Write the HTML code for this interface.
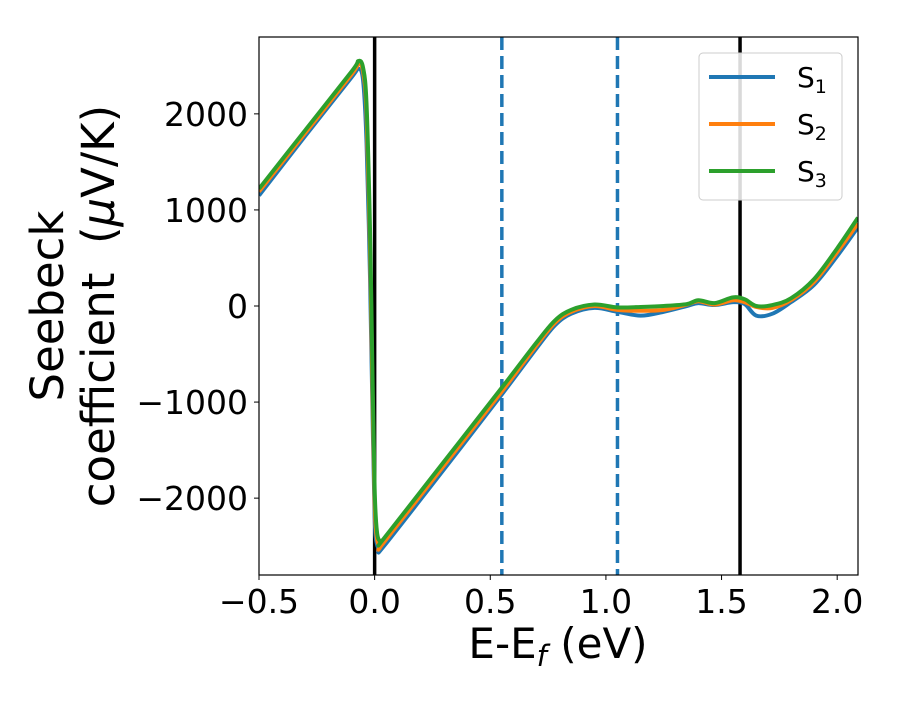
<!DOCTYPE html>
<html><head><meta charset="utf-8"><style>
body{margin:0;background:#fff}
svg{font-family:"DejaVu Sans","Liberation Sans",sans-serif}
</style></head><body>
<svg id="chart" width="900" height="700" viewBox="0 0 900 700">
<rect width="900" height="700" fill="#fff"/>
<defs><clipPath id="clip"><rect x="259" y="37" width="599" height="538"/></clipPath></defs>
<g id="vlines" clip-path="url(#clip)"></g>
<g id="series" clip-path="url(#clip)"></g>
<rect x="259" y="37" width="599" height="538" fill="none" stroke="#000" stroke-width="1.2"/>
<g id="xticks"></g><g id="yticks"></g>
<text x="558" y="658" font-size="42" text-anchor="middle">E-E<tspan font-style="italic" font-size="29" dy="8">f</tspan><tspan dy="-8"> (eV)</tspan></text>
<g transform="translate(0,306) rotate(-90)">
<text x="0" y="63" font-size="45" text-anchor="middle">Seebeck</text>
<text x="0" y="114" font-size="45" text-anchor="middle" xml:space="preserve">coefficient  (<tspan font-style="italic">μ</tspan>V/K)</text>
</g>
<g>
<rect x="699" y="53" width="143" height="147" rx="4" fill="#fff" fill-opacity="0.85" stroke="#ccc"/>
<g id="legend-items"></g>
</g>
</svg>
<script>
const xVals=[-0.5,-0.3,-0.1,-0.07,-0.05,-0.035,-0.02,-0.01,0,0.01,0.025,0.04,0.3,0.55,0.7,0.78,0.85,0.95,1.05,1.15,1.25,1.35,1.4,1.47,1.55,1.6,1.65,1.72,1.8,1.9,2.0,2.09];
const s1=[1150,1770,2380,2470,2350,1700,300,-1000,-2200,-2480,-2520,-2500,-1700,-920,-440,-200,-80,-20,-60,-100,-60,0,30,10,40,20,-100,-80,40,220,520,820];
const s2=[1190,1800,2410,2520,2440,2000,600,-800,-2050,-2420,-2500,-2460,-1660,-890,-410,-175,-60,0,-40,-50,-40,15,50,15,60,40,-10,-20,60,250,560,860];
const s3=[1220,1830,2440,2550,2480,2100,800,-600,-1900,-2350,-2450,-2420,-1620,-850,-380,-150,-40,15,-15,-10,0,20,60,30,90,70,0,10,80,280,600,920];
const seriesNames=["S1","S2","S3"];
const colors=["#1f77b4","#ff7f0e","#2ca02c"];
const xTicks=[-0.5,0.0,0.5,1.0,1.5,2.0];
const xTickLabels=["−0.5","0.0","0.5","1.0","1.5","2.0"];
const yTicks=[-2000,-1000,0,1000,2000];
const yTickLabels=["−2000","−1000","0","1000","2000"];
const solidLines=[0,1.58];
const dashedLines=[0.55,1.05];
const X0=259,X1=858,Y0=37,Y1=575,xmin=-0.5,xmax=2.09,ymin=-2800,ymax=2800;
const sx=v=>X0+(v-xmin)/(xmax-xmin)*(X1-X0);
const sy=v=>Y1-(v-ymin)/(ymax-ymin)*(Y1-Y0);
const NS="http://www.w3.org/2000/svg";
function mk(tag,attrs,parent){const e=document.createElementNS(NS,tag);for(const k in attrs)e.setAttribute(k,attrs[k]);parent.appendChild(e);return e;}
const vl=document.getElementById('vlines');
solidLines.forEach(v=>{const l=mk('line',{x1:sx(v),x2:sx(v),y1:Y0,y2:Y1,stroke:'#000','stroke-width':3.5},vl);

});
dashedLines.forEach(v=>{const l=mk('line',{x1:sx(v),x2:sx(v),y1:Y0,y2:Y1,stroke:'#1f77b4','stroke-width':3.5,'stroke-dasharray':'13,6'},vl);

});
function smoothPath(xs,ys){
 const p=xs.map((x,i)=>[sx(x),sy(ys[i])]);
 let d=`M${p[0][0]},${p[0][1]}`;
 for(let i=0;i<p.length-1;i++){
  const p0=p[i-1]||p[i],p1=p[i],p2=p[i+1],p3=p[i+2]||p2;
  const c1=[p1[0]+(p2[0]-p0[0])/6,p1[1]+(p2[1]-p0[1])/6];
  const c2=[p2[0]-(p3[0]-p1[0])/6,p2[1]-(p3[1]-p1[1])/6];
  d+=` C${c1[0]},${c1[1]} ${c2[0]},${c2[1]} ${p2[0]},${p2[1]}`;
 }
 return d;
}
const sg=document.getElementById('series');
[s1,s2,s3].forEach((s,i)=>{const p=mk('path',{d:smoothPath(xVals,s),fill:'none',stroke:colors[i],'stroke-width':4,'stroke-linejoin':'round'},sg);

});
const xt=document.getElementById('xticks');
xTicks.forEach((v,i)=>{mk('line',{x1:sx(v),x2:sx(v),y1:Y1,y2:Y1+5,stroke:'#000'},xt);
const t=mk('text',{x:sx(v),y:Y1+38,'font-size':33,'text-anchor':'middle'},xt);t.textContent=xTickLabels[i];

});
const yt=document.getElementById('yticks');
yTicks.forEach((v,i)=>{mk('line',{x1:X0-5,x2:X0,y1:sy(v),y2:sy(v),stroke:'#000'},yt);
const t=mk('text',{x:X0-11,y:sy(v)+12,'font-size':33,'text-anchor':'end'},yt);t.textContent=yTickLabels[i];

});
const lg=document.getElementById('legend-items');
seriesNames.forEach((n,i)=>{const y=77+i*47;
const l=mk('line',{x1:709,x2:775,y1:y,y2:y,stroke:colors[i],'stroke-width':4},lg);


const t=mk('text',{x:797,y:y+10,'font-size':28},lg);
t.innerHTML='S<tspan font-size="19" dy="6">'+(i+1)+'</tspan>';

});
</script>
</body></html>
